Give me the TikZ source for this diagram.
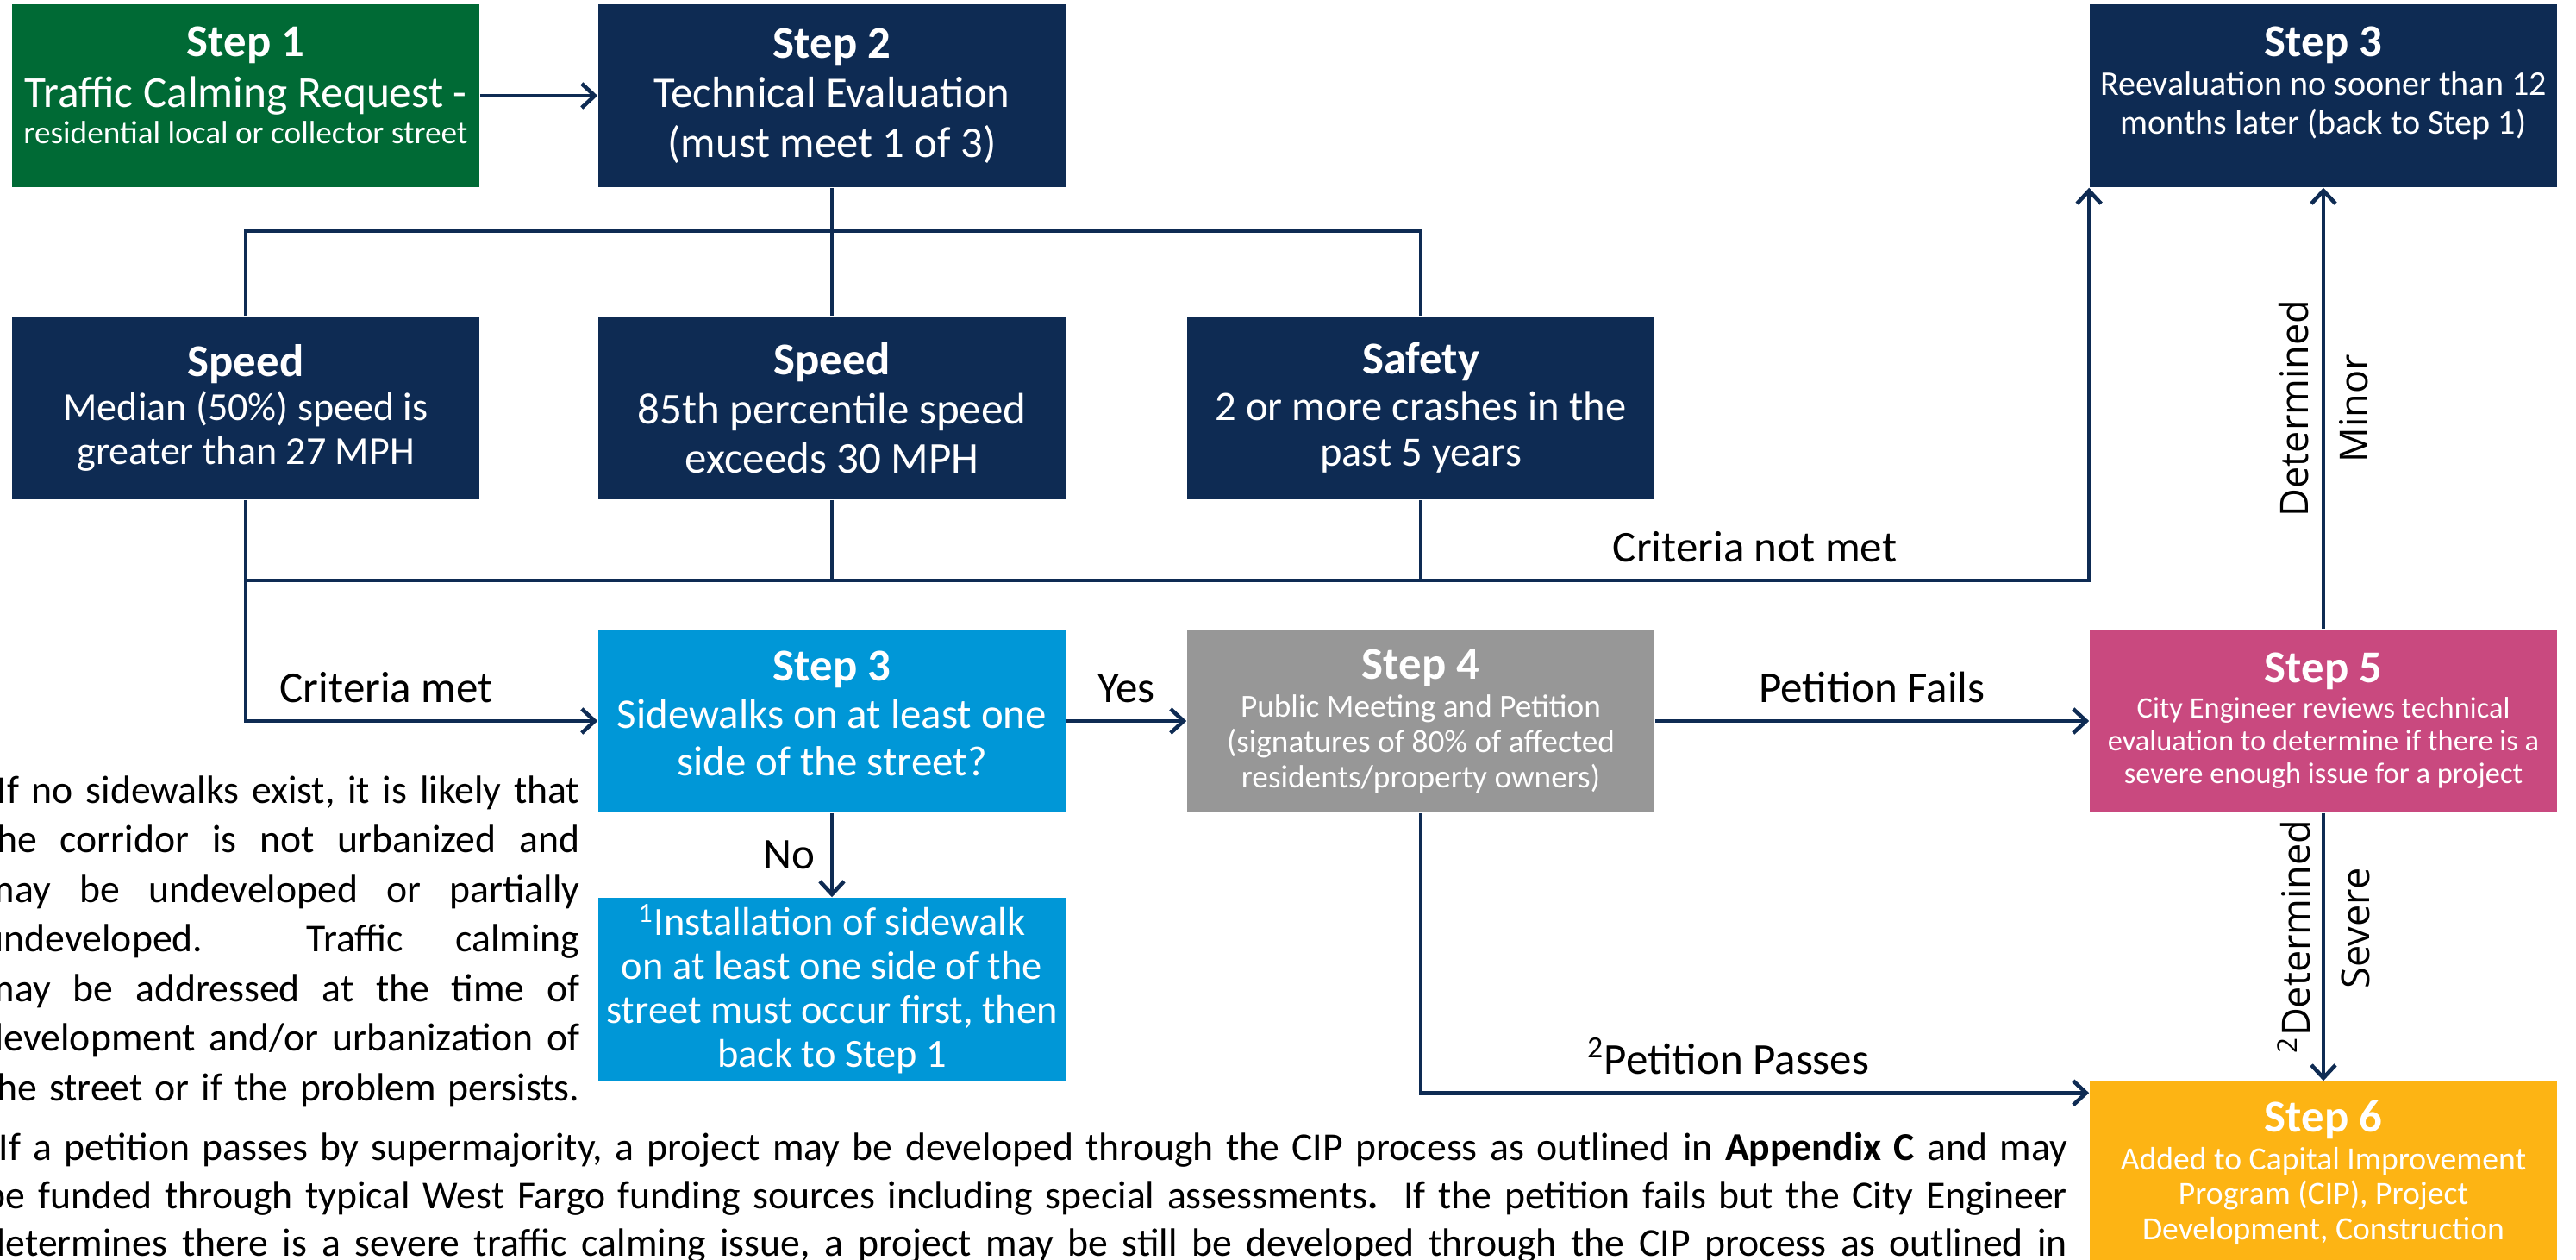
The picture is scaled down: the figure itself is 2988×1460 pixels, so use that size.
\documentclass[tikz,border=0pt]{standalone}
\usepackage{fontspec}
\setmainfont{Carlito}
\newfontfamily\rotfont{Open Sans}
\definecolor{wfNavy}{HTML}{0E2B53}
\definecolor{wfGreen}{HTML}{006A35}
\definecolor{wfBlue}{HTML}{0097D7}
\definecolor{wfGrey}{HTML}{979797}
\definecolor{wfPink}{HTML}{C9497F}
\definecolor{wfAmber}{HTML}{FDB414}
\usetikzlibrary{arrows.meta, positioning}
\setlength{\parindent}{0pt}
\frenchspacing
\newcommand{\stepfont}[2]{\fontsize{#1}{#2}\selectfont}
\newcommand{\steptitle}[1]{{\bfseries\stepfont{15}{18}#1\par}}
\newcommand{\padbelow}[1]{\rule[-#1]{0pt}{#1}}
\newcommand{\fontspaces}{\spaceskip=0pt\xspaceskip=0pt\relax}
\newcommand{\sideline}[1]{\makebox[6.91cm][s]{#1}\par}
\newcommand{\footline}[1]{\makebox[24.14cm][s]{#1}\par}
\tikzset{
    step box/.style={rectangle, text=white, minimum width=5.42cm, minimum height=2.12cm, text width=5.8cm, inner xsep=-0.19cm, inner ysep=0.01cm, font=\stepfont{14.4}{16.4}, execute at begin node={\centering\fontspaces}},
    navy box/.style={step box, fill=wfNavy},
    green box/.style={step box, fill=wfGreen},
    blue box/.style={step box, fill=wfBlue},
    grey box/.style={step box, fill=wfGrey},
    pink box/.style={step box, fill=wfPink},
    amber box/.style={step box, fill=wfAmber},
    flow line/.style={draw=wfNavy, line width=1.3pt},
    flow arrow/.style={flow line, -{Straight Barb[length=1.5mm, width=2.8mm]}},
    flow label/.style={font=\stepfont{14.5}{16}, text=black, inner sep=0pt, text depth=0pt},
    turned label/.style={font=\rotfont\fontsize{12.8}{19.6}\selectfont, text=black, align=center, rotate=90, inner sep=0pt},
    note text/.style={text=black, inner sep=0pt, execute at begin node={\fontspaces}},
}
\begin{document}
\begin{tikzpicture}[x=0.01cm, y=-0.01cm]
    \useasboundingbox (0,0) rectangle (2988,1460);
    \fill[white] (0,0) rectangle (2988,1460);

    % top row
    \node[green box] (step1) at (285,111) {\steptitle{Step 1}\stepfont{14.6}{16.8}Traffic Calming Request -\par\stepfont{10.6}{11.7}residential local or collector street\padbelow{7pt}\par};
    \node[navy box] (step2) at (965,111) {\steptitle{Step 2}Technical Evaluation\par(must meet 1 of 3)\par};
    \node[navy box] (reeval) at (2695,111) {\steptitle{Step 3}\stepfont{11.4}{12.8}Reevaluation no sooner than 12\par months later (back to Step 1)\padbelow{10pt}\par};

    % criteria
    \node[navy box] (speed1) at (285,473) {\steptitle{Speed}\stepfont{13.1}{14.4}Median (50\%) speed is\par greater than 27 MPH\par};
    \node[navy box] (speed2) at (965,473) {\steptitle{Speed}\stepfont{14.5}{16.2}85th percentile speed\par exceeds 30 MPH\par};
    \node[navy box] (safety) at (1648,473) {\steptitle{Safety}\stepfont{13.8}{15.2}2 or more crashes in the\par past 5 years\par};

    % process
    \node[blue box] (sidewalk) at (965,836) {\steptitle{Step 3}\stepfont{13.9}{15.6}Sidewalks on at least one\par side of the street?\padbelow{5pt}\par};
    \node[blue box] (install) at (965,1147) {\stepfont{13.2}{14.5}\textsuperscript{1}Installation of sidewalk\par on at least one side of the\par street must occur first, then\par back to Step 1\par};
    \node[grey box] (step4) at (1648,836) {\steptitle{Step 4}\stepfont{10.6}{12.5}Public Meeting and Petition\par\stepfont{10.6}{11.7}(signatures of 80\% of affected\par residents/property owners)\par};
    \node[pink box] (step5) at (2695,836) {\steptitle{Step 5}\stepfont{9.8}{11.5}City Engineer reviews technical\par\stepfont{9.8}{10.9}evaluation to determine if there is a\par severe enough issue for a project\par};
    \node[amber box] (step6) at (2695,1360) {\steptitle{Step 6}\stepfont{10.7}{12.4}Added to Capital Improvement\par\stepfont{10.7}{11.6}Program (CIP), Project\par Development, Construction\par};

    \coordinate (upper bus) at (965,268);
    \coordinate (lower bus) at (965,673);

    \draw[flow arrow] (step1) -- (step2);
    \draw[flow line] (step2) -- (speed2);
    \draw[flow line] (speed1.north) |- (upper bus) -| (safety.north);
    \draw[flow line] (speed2.south) -- (lower bus);
    \draw[flow line] (safety.south) -- (safety.south |- lower bus);
    \draw[flow arrow] (speed1.south) |- (safety.south |- lower bus) -- node[flow label, above=5.6pt] (notmet) {Criteria not met} (reeval.south west |- lower bus) -- (reeval.south west);
    \draw[flow arrow] (speed1.south) |- node[flow label, above=5.6pt, pos=0.7] (met) {Criteria met} (sidewalk.west);
    \draw[flow arrow] (sidewalk) -- node[flow label, above=5.6pt] (yes) {Yes} (step4);
    \draw[flow arrow] (sidewalk) -- node[flow label, left=5pt] (no) {No} (install);
    \draw[flow arrow] (step4) -- node[flow label, above=5.6pt] (fails) {Petition Fails} (step5);
    \draw[flow arrow] (step4.south) |- node[flow label, above=5.6pt, pos=0.73] (passes) {\textsuperscript{2}Petition Passes} ([yshift=-1.4mm]step6.north west);
    \draw[flow arrow] (step5) -- node[turned label] (minor) {Determined\\Minor} (reeval);
    \draw[flow arrow] (step5) -- node[turned label, pos=0.43] (severe) {\llap{\textsuperscript{2}}Determined\\Severe} (step6);

    % footnotes
    \node[note text, text width=6.91cm, anchor=north east, font=\stepfont{13}{16.35}] (sidenote) at (673,899) {%
        \sideline{\hspace*{4.5pt}If no sidewalks exist, it is likely that}%
        \sideline{the corridor is not urbanized and}%
        \sideline{may be undeveloped or partially}%
        \sideline{undeveloped.\ \ Traffic calming}%
        \sideline{may be addressed at the time of}%
        \sideline{development and/or urbanization of}%
        \sideline{the street or if the problem persists.}};
    \node[note text, text width=24.14cm, anchor=north west, font=\stepfont{13}{15.8}] (footnote) at (-18,1313) {%
        \footline{\hspace*{4.5pt}If a petition passes by supermajority, a project may be developed through the CIP process as outlined in \textbf{Appendix C} and may}%
        \footline{be funded through typical West Fargo funding sources including special assessments\textbf{.}\ \ If the petition fails but the City Engineer}%
        \footline{determines there is a severe traffic calming issue, a project may be still be developed through the CIP process as outlined in}};
\end{tikzpicture}
\end{document}
